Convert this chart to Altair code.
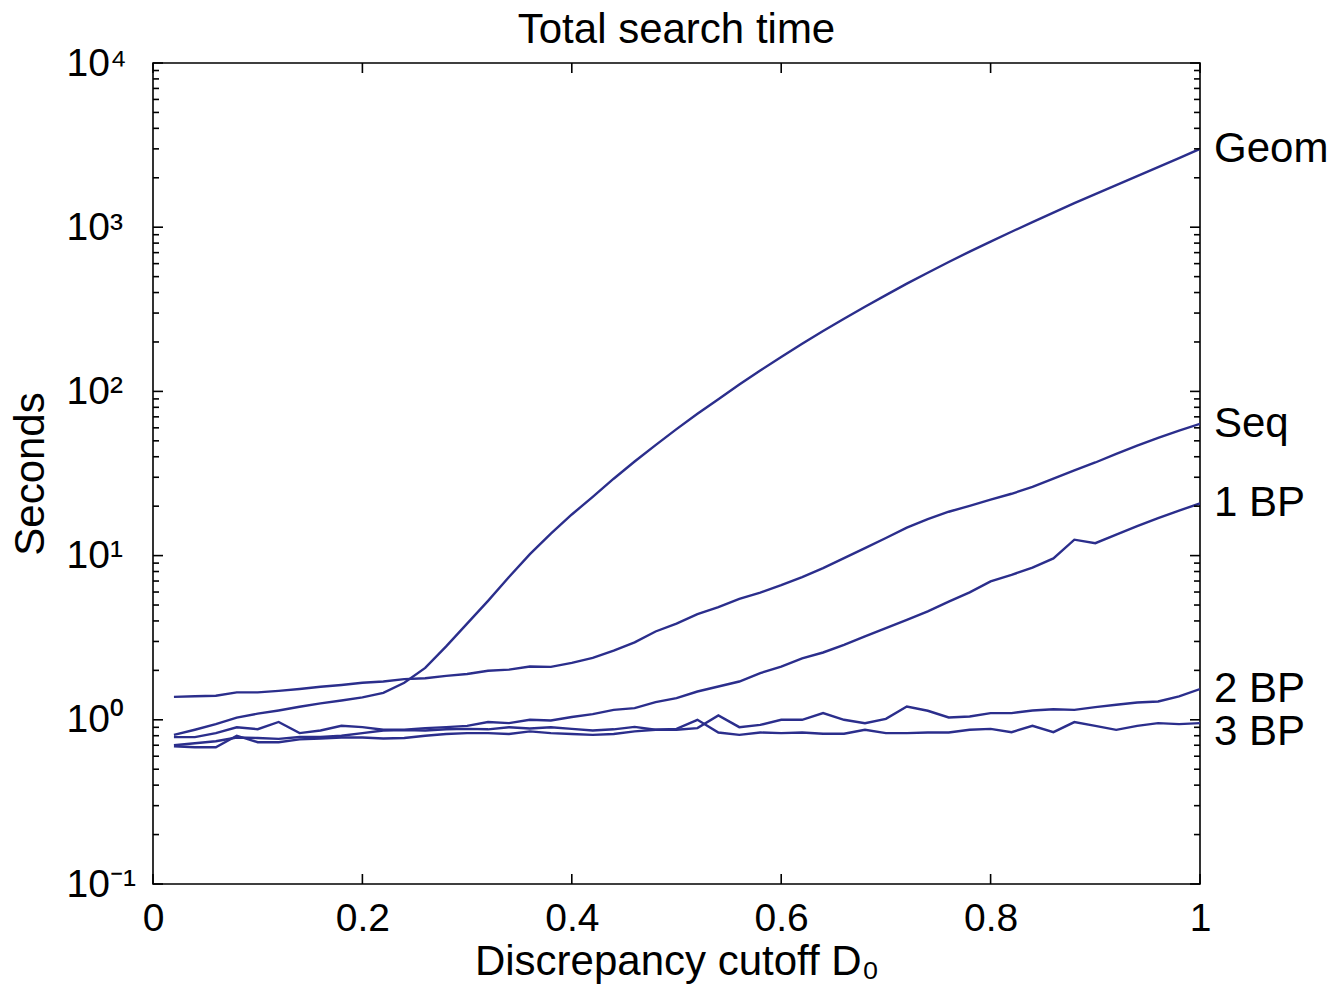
import altair as alt
import pandas as pd

# ---------------- data ----------------
x_vals = [0.02, 0.04, 0.06, 0.08, 0.10, 0.12, 0.14, 0.16, 0.18, 0.20,
          0.22, 0.24, 0.26, 0.28, 0.30, 0.32, 0.34, 0.36, 0.38, 0.40,
          0.42, 0.44, 0.46, 0.48, 0.50, 0.52, 0.54, 0.56, 0.58, 0.60,
          0.62, 0.64, 0.66, 0.68, 0.70, 0.72, 0.74, 0.76, 0.78, 0.80,
          0.82, 0.84, 0.86, 0.88, 0.90, 0.92, 0.94, 0.96, 0.98, 1.00]

geom = [0.81, 0.87, 0.94, 1.03, 1.09, 1.14, 1.20, 1.26, 1.31, 1.37,
        1.46, 1.68, 2.07, 2.8, 3.85, 5.3, 7.4, 10.2, 13.6, 17.8,
        22.8, 29.4, 37.4, 47.1, 58.9, 73, 89.7, 110, 134, 162,
        195, 233, 277, 328, 386, 453, 528, 614, 710, 817,
        938, 1074, 1227, 1400, 1589, 1803, 2046, 2323, 2636, 3000]

seq = [1.38, 1.39, 1.40, 1.47, 1.47, 1.50, 1.54, 1.59, 1.63, 1.68,
       1.71, 1.77, 1.79, 1.85, 1.90, 1.99, 2.02, 2.11, 2.10, 2.22,
       2.38, 2.64, 2.96, 3.45, 3.85, 4.4, 4.85, 5.45, 5.95, 6.6,
       7.4, 8.4, 9.65, 11.1, 12.8, 14.8, 16.7, 18.5, 20.1, 21.9,
       23.8, 26.2, 29.4, 33.0, 36.9, 41.6, 46.7, 52.2, 57.7, 63.5]

bp1 = [0.784, 0.784, 0.83, 0.90, 0.877, 0.97, 0.83, 0.861, 0.919, 0.902,
       0.869, 0.869, 0.89, 0.902, 0.919, 0.97, 0.954, 1.0, 0.99, 1.04,
       1.083, 1.15, 1.178, 1.28, 1.356, 1.487, 1.595, 1.71, 1.925, 2.11,
       2.37, 2.57, 2.86, 3.22, 3.62, 4.06, 4.57, 5.25, 5.97, 6.96,
       7.63, 8.45, 9.62, 12.5, 11.9, 13.4, 15.1, 16.9, 18.8, 20.8]

bp2 = [0.70, 0.72, 0.74, 0.78, 0.775, 0.765, 0.785, 0.785, 0.80, 0.83,
       0.86, 0.865, 0.86, 0.875, 0.88, 0.875, 0.90, 0.885, 0.90, 0.88,
       0.86, 0.875, 0.905, 0.87, 0.87, 0.89, 1.062, 0.902, 0.932, 1.0,
       1.0, 1.098, 1.0, 0.954, 1.014, 1.205, 1.135, 1.033, 1.047, 1.098,
       1.098, 1.14, 1.16, 1.15, 1.195, 1.234, 1.275, 1.292, 1.387, 1.538]

bp3 = [0.69, 0.68, 0.68, 0.80, 0.73, 0.73, 0.76, 0.77, 0.78, 0.78,
       0.77, 0.775, 0.80, 0.82, 0.83, 0.83, 0.82, 0.85, 0.83, 0.82,
       0.81, 0.82, 0.85, 0.87, 0.88, 1.0, 0.837, 0.81, 0.837, 0.83,
       0.837, 0.822, 0.822, 0.869, 0.83, 0.83, 0.837, 0.837, 0.869, 0.881,
       0.841, 0.919, 0.841, 0.968, 0.919, 0.869, 0.919, 0.954, 0.941, 0.954]

series_names = ["Geom", "Seq", "1 BP", "2 BP", "3 BP"]
series_vals = [geom, seq, bp1, bp2, bp3]

title_text = "Total search time"
x_title = "Discrepancy cutoff D₀"
y_title = "Seconds"

x_tick_vals = [0, 0.2, 0.4, 0.6, 0.8, 1.0]
y_major_vals = [0.1, 1, 10, 100, 1000, 10000]
y_minor_vals = [m * d for d in [0.1, 1, 10, 100, 1000] for m in range(2, 10)]

# ---------------- tables ----------------
rows = []
for name, vals in zip(series_names, series_vals):
    for xv, yv in zip(x_vals, vals):
        rows.append({"x": xv, "y": yv, "s": name})
df = pd.DataFrame(rows)

lab_main = pd.DataFrame({"name": series_names[:4], "y": [v[-1] for v in series_vals[:4]]})
lab_3bp = pd.DataFrame({"name": [series_names[4]], "y": [series_vals[4][-1]]})
xt = pd.DataFrame({"x": x_tick_vals})
ymaj = pd.DataFrame({"y": y_major_vals})
ymin = pd.DataFrame({"y": y_minor_vals})
ttl = pd.DataFrame({"t": [title_text]})

# ---------------- style ----------------
W, H = 1047, 821
COLOR = "#2B2E8C"
FONT = "Liberation Sans"
FS_TICK = 39
FS = 42

xs = alt.Scale(domain=[0, 1], nice=False, zero=False)
ys = alt.Scale(type="log", domain=[0.1, 10000], nice=False)

xaxis = alt.Axis(values=x_tick_vals, format="~g", ticks=False, domain=False, grid=False,
                 labelFont=FONT, labelFontSize=FS_TICK, labelColor="black", labelPadding=15,
                 labelFlush=False, title=x_title, titleFont=FONT,
                 titleFontSize=FS, titleFontWeight="normal", titleColor="black", titlePadding=3)
yexpr = ("datum.value < 0.5 ? '10⁻¹' : datum.value < 5 ? '10⁰' : datum.value < 50 ? '10¹' : "
         "datum.value < 500 ? '10²' : datum.value < 5000 ? '10³' : '10⁴'")
yaxis = alt.Axis(values=y_major_vals, labelExpr=yexpr, ticks=False, domain=False, grid=False,
                 labelFont=FONT, labelFontSize=FS_TICK, labelColor="black", labelPadding=87,
                 labelAlign="left", labelFlush=False, title=y_title, titleFont=FONT,
                 titleFontSize=FS, titleFontWeight="normal", titleColor="black", titlePadding=14)

X = lambda f: alt.X(f, scale=xs, axis=xaxis)
Y = lambda f: alt.Y(f, scale=ys, axis=yaxis)

lines = alt.Chart(df).mark_line(color=COLOR, strokeWidth=2.4, clip=True).encode(
    x=X("x:Q"), y=Y("y:Q"), detail="s:N")

tick_style = dict(color="black", strokeWidth=1.6)
xt_bottom = alt.Chart(xt).mark_rule(**tick_style).encode(
    x=X("x:Q"), y=alt.value(H), y2=alt.value(H - 10))
xt_top = alt.Chart(xt).mark_rule(**tick_style).encode(
    x=X("x:Q"), y=alt.value(0), y2=alt.value(10))
yl_major = alt.Chart(ymaj).mark_rule(**tick_style).encode(
    y=Y("y:Q"), x=alt.value(0), x2=alt.value(10))
yr_major = alt.Chart(ymaj).mark_rule(**tick_style).encode(
    y=Y("y:Q"), x=alt.value(W), x2=alt.value(W - 10))
yl_minor = alt.Chart(ymin).mark_rule(**tick_style).encode(
    y=Y("y:Q"), x=alt.value(0), x2=alt.value(6))
yr_minor = alt.Chart(ymin).mark_rule(**tick_style).encode(
    y=Y("y:Q"), x=alt.value(W), x2=alt.value(W - 6))

txt_style = dict(font=FONT, fontSize=FS, color="black", align="left", baseline="middle")
labels1 = alt.Chart(lab_main).mark_text(**txt_style).encode(
    x=alt.value(W + 14), y=Y("y:Q"), text="name:N")
labels2 = alt.Chart(lab_3bp).mark_text(dy=9, **txt_style).encode(
    x=alt.value(W + 14), y=Y("y:Q"), text="name:N")

title_mark = alt.Chart(ttl).mark_text(font=FONT, fontSize=FS, color="black",
                                      align="center", baseline="middle").encode(
    x=alt.value(W / 2), y=alt.value(-33), text="t:N")

chart = alt.layer(
    lines, xt_bottom, xt_top, yl_major, yr_major, yl_minor, yr_minor,
    labels1, labels2, title_mark
).properties(
    width=W, height=H,
    autosize=alt.AutoSizeParams(type="none"),
    padding={"left": 153, "top": 63, "right": 131, "bottom": 112},
    background="white",
).configure_view(stroke="black", strokeWidth=1.6)

chart.save("out.html", embed_options={"renderer": "svg", "actions": False})
